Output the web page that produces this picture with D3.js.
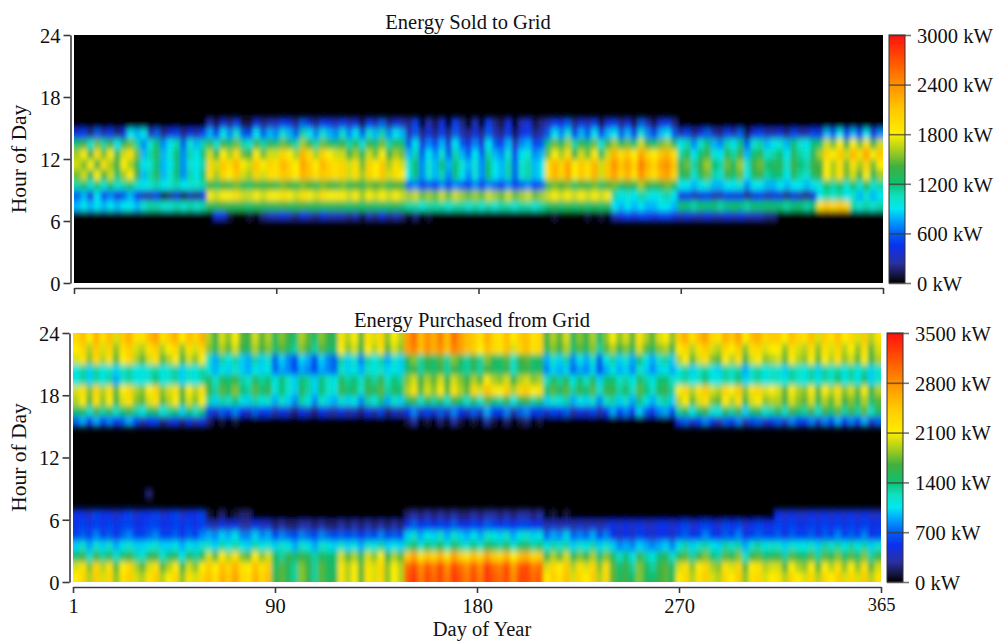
<!DOCTYPE html>
<meta charset="utf-8">
<style>
	html, body { margin: 0; background: #fff; }
	svg { display: block; }
	text { font-family: "Liberation Serif", serif; fill: #111; }
	.axis path, .axis line { stroke: #3a3a3a; stroke-width: 1.6; fill: none; }
	.axis text { font-size: 20.5px; }
	.title { font-size: 20.5px; }
	.label { font-size: 21.5px; }
	.daylabel { font-size: 20.5px; }
</style>
<svg width="997" height="641"></svg>
<script src="https://cdn.jsdelivr.net/npm/d3@7"></script>
<script>
	var sold15 = [0,0,0,0,0,0,0,0,0,0, 0,0,0,0,0,0,0,0,0,0, 3,1,4,2,5,1,1,4,2,3, 3,5,4,2,6,4,2,5,4,3, 5,3,4,1,5,3,6,2,4,3, 2,5,0,3,1,4,0,5,2,0, 3,0,5,2,1,4,0,3,4,1,2, 3,5,4,6,2,4,3,5,1,4, 5,2,4,1,6,3,1,4,5,2, 0,0,0,0,0,0,0,0,0,0,0,0,0,0,0, 0,0,0,0,0,0, 0,0,0,0,0, 0,0,0,0,0];
	var sold14 = [4,5,2,6,3,5,2,4,9,8, 9,3,6,2,4,5,2,4,3,5, 8,5,9,7,10,6,5,9,6,8, 7,10,8,6,11,9,7,10,8,7, 10,7,9,6,10,8,11,7,9,8, 3,6,2,4,2,5,2,6,3,2, 4,2,6,3,2,5,1,4,5,2,3, 6,9,7,10,5,8,6,9,5,8, 9,6,8,5,10,7,5,8,9,6, 3,5,2,4,6,3,2,5,3,6,1,4,5,3,3, 4,2,5,3,3,5, 4,8,6,9,5, 8,5,9,4,7];
	var sold13 = [12,14,10,15,11,14,9,13,15,11, 7,10,12,7,9,11,6,10,8,11, 13,10,14,12,15,11,10,14,11,13, 12,15,13,11,16,14,11,15,13,12, 14,11,13,10,14,12,15,11,13,12, 6,9,4,7,5,8,4,9,6,4, 7,4,9,6,5,8,3,7,8,5,6, 12,15,13,16,11,14,12,15,10,14, 16,13,15,12,17,14,12,15,16,13, 9,11,7,10,12,8,7,11,9,12,6,10,11,8,9, 10,8,12,10,9,12, 12,17,15,18,14, 18,15,19,14,17];
	var sold12 = [16,18,14,19,15,18,13,17,19,15, 8,11,13,8,10,12,7,11,9,12, 17,14,18,16,19,15,14,18,15,17, 17,20,18,16,22,19,16,20,18,17, 17,14,16,13,17,15,18,14,16,15, 8,11,6,9,7,10,6,11,8,6, 9,6,11,8,7,10,5,9,10,7,8, 15,18,16,19,14,17,15,18,13,17, 22,19,21,18,23,20,18,21,22,19, 11,13,9,12,14,10,9,13,11,14,8,12,13,10,11, 12,9,13,11,10,13, 16,20,18,21,17, 22,19,23,18,21];
	var sold11 = [17,15,18,14,19,16,14,18,16,13, 9,10,12,8,9,12,7,10,9,11, 20,17,21,19,22,18,17,21,18,20, 19,22,20,18,23,21,18,22,20,19, 20,17,19,15,20,18,21,16,19,17, 10,12,7,10,8,12,8,12,10,8, 10,7,12,9,8,11,6,10,11,8,9, 19,22,20,23,18,21,19,22,17,21, 24,21,23,20,25,22,20,23,24,21, 13,15,11,14,16,12,11,15,13,16,10,14,15,12,13, 13,10,14,12,11,14, 14,18,16,19,15, 19,16,20,15,18];
	var sold10 = [15,17,13,18,14,17,12,16,18,14, 8,11,13,8,10,12,7,11,9,12, 19,16,20,18,21,17,16,20,17,19, 19,21,20,18,22,21,19,21,20,19, 20,17,19,16,20,18,21,17,19,18, 9,12,7,10,8,11,7,12,9,7, 10,7,12,9,8,11,6,10,11,8,9, 19,22,20,23,18,21,19,22,17,21, 23,20,22,19,24,21,19,22,23,20, 12,14,10,13,15,11,10,14,12,15,9,13,14,11,12, 12,9,13,11,10,13, 14,18,16,19,15, 17,14,18,13,16];
	var sold09 = [11,12,10,12,10,12,10,11,12,10, 9,10,11,9,10,11,9,10,10,11, 14,12,14,13,15,13,12,14,13,14, 13,15,14,13,15,14,13,15,14,13, 15,13,14,13,15,14,15,13,14,14, 6,7,5,6,5,7,5,7,6,5, 7,5,7,6,5,7,5,6,7,5,6, 13,15,14,15,12,14,13,15,12,14, 15,13,14,13,16,14,13,14,15,13, 9,9,8,9,10,8,8,9,9,10,7,9,9,8,8, 9,8,9,9,8,9, 10,12,11,12,10, 12,10,13,10,11];
	var sold08 = [6,8,4,9,5,7,4,6,8,5, 3,3,5,1,2,4,1,3,2,4, 18,17,18,18,19,17,17,18,17,18, 18,19,18,17,19,18,17,19,18,18, 18,17,18,16,18,17,18,17,18,17, 16,17,15,16,15,17,15,17,16,15, 16,15,17,16,15,17,15,16,17,15,16, 17,18,17,18,17,18,17,18,17,18, 11,9,10,9,11,10,9,10,11,9, 4,5,3,4,5,3,3,5,4,5,2,4,5,3,4, 4,2,4,3,2,4, 9,11,10,11,9, 10,8,10,8,9];
	var sold07 = [8,9,8,9,8,9,8,9,9,8, 10,11,11,10,10,11,10,11,10,11, 13,13,14,13,13,13,12,13,13,13, 13,14,13,13,14,13,13,13,13,13, 13,12,13,12,13,12,13,12,13,12, 11,11,10,11,11,11,10,11,11,10, 11,10,11,10,11,11,10,11,11,10,11, 12,13,12,13,12,13,12,13,12,13, 9,8,9,8,9,8,8,9,9,8, 12,12,11,12,12,12,11,12,12,12,11,12,12,12,12, 12,11,12,12,11,12, 19,21,20,21,20, 11,10,11,10,11];
	var sold06 = [0,0,0,0,0,0,0,0,0,0, 0,0,0,0,0,0,0,0,0,0, 0,4,4,1,0,0,1,0,2,3, 3,4,3,2,4,3,2,4,3,3, 3,2,3,1,3,2,4,2,3,2, 0,2,0,1,0,0,0,0,0,0, 0,0,0,0,0,0,0,0,0,0,0, 0,1,0,0,0,0,1,0,1,0, 3,4,5,4,5,5,4,5,5,4, 3,4,3,3,4,3,3,4,3,4,3,3,3,2,2, 0,0,0,0,0,0, 0,0,0,0,0, 0,0,0,0,0];

	var bought23 = [23,25,21,26,22,25,20,24,26,22, 22,25,27,22,24,26,21,25,23,26, 19,16,20,18,21,17,16,20,17,19, 15,18,16,14,19,17,14,18,16,15, 22,19,21,17,22,20,23,18,21,19, 27,30,25,28,26,29,25,30,27,25, 24,22,26,23,22,25,21,24,25,22,23, 16,19,17,20,15,18,16,19,14,18, 21,18,20,17,22,19,17,20,21,18, 24,26,22,25,27,23,22,26,24,27,21,25,26,23,24, 24,21,25,23,22,25, 20,24,22,25,21, 23,20,24,19,22];
	var bought22 = [21,23,19,24,20,23,18,22,24,20, 19,22,24,19,21,23,18,22,20,23, 18,15,19,17,20,16,15,19,16,18, 14,17,15,13,18,16,13,17,15,14, 21,18,20,16,21,19,22,17,20,18, 27,29,25,28,26,28,25,29,27,25, 24,21,25,23,22,25,20,23,25,22,23, 15,18,16,19,14,17,15,18,13,17, 19,16,18,15,20,17,15,18,19,16, 21,23,19,22,24,20,19,23,21,24,18,22,23,20,21, 21,18,22,20,19,22, 18,22,20,23,19, 21,18,22,17,20];
	var bought21 = [20,22,18,23,19,22,17,21,23,19, 17,20,22,17,19,21,16,20,18,21, 12,9,13,11,13,10,9,13,10,12, 7,10,8,6,10,9,6,10,8,7, 13,10,12,8,13,11,13,9,12,10, 15,18,13,16,14,17,13,18,15,13, 16,13,18,15,14,17,12,16,17,14,15, 9,12,10,13,8,11,9,12,7,11, 13,10,12,9,14,11,9,12,13,10, 19,21,17,20,22,18,17,21,19,22,16,20,21,18,19, 20,17,21,19,18,21, 17,21,19,22,18, 20,17,21,16,19];
	var bought20 = [11,13,10,13,11,12,10,12,13,11, 11,12,13,11,12,13,10,12,11,13, 11,9,11,10,12,10,9,11,10,11, 7,9,8,6,9,8,6,9,8,7, 12,10,11,9,12,11,12,10,11,10, 14,16,13,15,14,16,13,16,14,13, 15,13,16,15,14,16,12,15,16,14,15, 8,10,9,10,7,9,8,10,6,9, 11,9,10,8,12,10,8,10,11,9, 11,13,10,12,13,11,10,13,12,13,9,12,13,11,12, 12,10,13,12,11,13, 10,13,12,13,11, 13,11,13,10,12];
	var bought19 = [11,13,10,13,11,13,9,12,13,11, 11,12,14,11,12,13,10,12,11,13, 15,12,15,14,16,13,12,15,13,14, 11,14,12,10,14,13,10,14,12,11, 15,13,14,12,15,13,16,12,14,13, 18,20,16,19,17,20,16,20,18,16, 19,17,21,19,18,20,16,19,20,18,19, 12,15,13,15,11,14,12,15,10,14, 14,12,13,11,15,13,11,14,14,12, 12,13,11,12,14,11,11,13,12,14,10,12,13,11,12, 12,11,13,12,11,13, 11,13,12,14,11, 13,11,14,10,12];
	var bought18 = [20,22,18,23,19,22,17,21,23,19, 18,21,23,18,20,22,17,21,19,22, 16,13,17,15,18,14,13,17,14,16, 11,14,12,10,15,13,10,14,12,11, 16,14,15,12,16,15,17,13,15,14, 19,22,17,20,18,21,17,22,19,17, 23,20,25,22,21,24,19,23,24,21,22, 14,17,15,17,13,16,14,17,12,16, 16,13,15,12,17,14,12,15,16,13, 21,23,19,22,24,20,19,23,21,24,18,22,23,20,21, 20,17,21,19,18,21, 17,21,19,22,18, 20,17,21,16,19];
	var bought17 = [19,21,17,22,18,21,16,20,22,18, 17,20,22,17,19,21,16,20,18,21, 13,10,13,12,14,11,10,13,11,12, 9,12,10,8,13,11,8,12,10,9, 12,10,11,8,13,11,14,9,12,10, 14,16,12,15,13,15,12,16,14,12, 15,12,17,14,13,16,11,15,16,13,14, 10,12,11,13,9,11,10,12,8,12, 13,10,12,9,14,11,9,12,13,10, 19,21,17,20,22,18,17,21,19,22,16,20,21,18,19, 19,16,20,18,17,20, 15,19,17,20,16, 18,15,19,14,17];
	var bought16 = [14,15,12,16,13,15,12,14,16,13, 11,14,15,11,13,14,10,14,12,14, 6,4,7,5,8,5,4,7,5,6, 3,5,4,2,5,4,2,5,4,3, 5,3,4,2,5,3,6,2,4,3, 5,8,4,6,4,7,4,8,5,4, 7,4,9,6,5,8,3,7,8,5,6, 4,6,5,7,3,5,4,6,3,5, 9,6,8,5,10,7,5,8,9,6, 13,15,11,14,16,12,11,15,13,16,10,14,15,12,13, 15,12,16,14,13,16, 12,16,14,17,13, 16,13,17,12,15];
	var bought15 = [7,9,5,9,6,8,5,7,9,6, 3,5,6,2,4,5,2,5,3,5, 2,0,1,0,1,0,0,0,0,0, 0,0,0,0,0,0,0,0,0,0, 0,0,0,0,0,0,0,0,0,0, 1,3,0,1,0,2,0,3,1,0, 1,0,3,1,0,2,0,1,2,0,1, 0,0,0,0,0,0,0,0,0,0, 0,0,0,0,0,0,0,0,0,0, 5,7,4,6,8,5,3,7,5,8,3,6,7,4,5, 7,4,8,6,5,8, 4,8,6,9,5, 8,5,9,4,7];
	var bought08 = [0,0,0,0,0,0,0,0,0,0, 0,2];
	var bought06 = [5,5,4,6,5,5,4,5,6,4, 5,5,6,4,5,6,4,5,5,6, 1,0,2,0,1,2,2,0,0,0, 0,0,0,0,0,0,0,0,0,0, 0,0,0,0,0,0,0,0,0,0, 2,3,2,3,2,3,2,3,2,2, 3,2,3,3,2,3,2,3,3,2,3, 0,1,0,1,0,0,0,0,0,0, 0,0,0,0,0,0,0,0,0,0, 0,0,0,0,0,0,0,0,0,0,0,0,0,0,0, 5,4,5,4,4,5, 4,5,4,5,4, 5,4,5,4,4];
	var bought05 = [5,6,5,6,5,6,5,6,6,5, 5,6,6,5,5,6,5,6,5,6, 4,3,5,4,5,3,3,5,4,4, 2,3,2,2,3,3,2,3,2,2, 3,2,3,2,3,2,3,2,3,2, 5,7,5,6,5,6,5,7,5,5, 6,5,7,6,5,6,5,6,6,5,5, 3,4,3,4,3,4,3,4,3,4, 5,4,5,4,5,4,4,5,5,4, 5,6,4,5,6,5,4,6,5,6,4,5,6,5,5, 6,5,6,5,5,6, 5,6,5,6,5, 6,5,6,5,5];
	var bought04 = [6,7,6,8,6,7,5,7,8,6, 6,7,8,6,6,7,5,7,6,8, 9,8,10,9,11,8,8,10,8,9, 6,8,7,6,8,7,6,8,7,6, 7,6,7,5,7,6,8,6,7,6, 10,12,9,11,10,12,9,12,10,9, 11,9,12,11,10,12,9,11,12,10,11, 7,9,8,10,7,8,7,9,6,8, 5,4,5,4,6,5,4,5,5,4, 6,7,5,6,8,6,5,7,6,8,5,6,7,6,6, 7,5,7,6,6,7, 5,7,6,8,6, 7,6,8,5,6];
	var bought03 = [10,12,9,12,10,12,9,11,12,10, 10,11,12,10,10,11,9,11,10,12, 12,10,13,11,13,11,10,13,11,12, 10,12,11,9,12,11,9,12,11,10, 12,10,11,9,12,11,13,10,11,10, 13,15,12,14,13,15,12,15,13,12, 14,12,15,14,13,15,12,14,15,13,14, 11,13,12,13,10,12,11,13,10,12, 10,8,9,8,10,9,8,9,10,8, 11,13,10,12,13,11,10,13,12,13,9,12,13,11,12, 12,10,12,11,11,12, 10,13,12,13,11, 13,11,13,10,12];
	var bought02 = [14,16,12,16,13,15,12,14,16,13, 12,15,16,12,14,15,11,15,13,15, 20,17,21,19,22,18,17,21,18,20, 15,13,16,14,16,15,13,15,14,14, 20,17,19,15,20,18,21,16,19,17, 24,27,22,25,23,26,22,27,24,22, 25,23,27,24,23,26,21,25,26,23,24, 16,19,17,20,15,18,16,19,14,18, 15,12,14,11,16,13,11,14,15,12, 15,17,13,16,18,14,13,17,15,18,12,16,17,14,15, 16,13,17,15,14,17, 13,17,15,18,14, 17,14,18,13,16];
	var bought01 = [20,22,18,23,19,22,17,21,23,19, 17,20,22,17,19,21,16,20,18,21, 24,21,25,23,26,22,21,25,22,24, 14,17,15,13,18,16,13,17,15,14, 22,19,21,17,22,20,23,18,21,19, 30,32,28,31,29,32,28,32,30,28, 31,28,33,30,29,32,27,31,32,29,30, 20,23,21,24,19,22,20,23,18,22, 17,14,16,13,18,15,13,16,17,14, 20,22,18,21,23,19,18,22,20,23,17,21,22,19,20, 20,17,21,19,18,21, 17,21,19,22,18, 21,18,22,17,20];
	var bought00 = [21,23,19,24,20,23,18,22,24,20, 19,22,24,19,21,23,18,22,20,23, 25,22,26,24,27,23,22,26,23,25, 15,17,15,13,18,16,13,17,15,15, 22,19,21,17,22,20,23,18,21,19, 31,33,29,32,30,32,29,33,31,29, 32,29,33,31,30,32,28,32,32,30,31, 21,24,22,25,20,23,21,24,19,23, 17,15,16,14,18,15,14,16,17,15, 21,23,19,22,24,20,19,23,21,24,18,22,23,20,21, 22,19,23,21,20,23, 19,23,21,24,20, 23,20,24,19,22];

	var soldHours = {15: sold15, 14: sold14, 13: sold13, 12: sold12, 11: sold11, 10: sold10, 9: sold09, 8: sold08, 7: sold07, 6: sold06};
	var boughtHours = {23: bought23, 22: bought22, 21: bought21, 20: bought20, 19: bought19, 18: bought18, 17: bought17, 16: bought16, 15: bought15,
		8: bought08, 6: bought06, 5: bought05, 4: bought04, 3: bought03, 2: bought02, 1: bought01, 0: bought00};

	var dayColumns = d3.range(1, 366, 3);
	var dayTicks = ["1", "90", "180", "270", "365"];
	var hourTicks = [0, 6, 12, 18, 24];
	var soldLegend = [0, 600, 1200, 1800, 2400, 3000];
	var boughtLegend = [0, 700, 1400, 2100, 2800, 3500];

	// colours of the bar, position is share of the top value
	var colourStops = [0, .03, .08, .15, .2, .25, .3, .35, .4, .47, .53, .6, .7, .8, .9, 1];
	var colourValues = ["#000000", "#14143c", "#2a30a0", "#0a30f0", "#0060f0", "#00a0ff", "#00e8f0", "#10e0c0", "#10c070", "#40b040", "#a0cc20", "#ffee00", "#ffc800", "#ff9000", "#ff5000", "#ff1010"];
	var share = d3.scaleLinear().domain(colourStops).range(colourValues).clamp(true);

	var svg = d3.select("svg");

	var defs = svg.append("defs");
	var blur = defs.append("filter").attr("id", "soft")
		.attr("filterUnits", "userSpaceOnUse")
		.attr("x", 0).attr("y", 0).attr("width", 997).attr("height", 641);
	blur.append("feGaussianBlur").attr("stdDeviation", "2 3");

	var gradient = defs.append("linearGradient").attr("id", "bar")
		.attr("x1", 0).attr("x2", 0).attr("y1", 1).attr("y2", 0);
	colourStops.forEach(function(s, i) {
		gradient.append("stop").attr("offset", s).attr("stop-color", colourValues[i]);
	});

	function drawPanel(p)
	{
		var x = d3.scaleBand().domain(dayColumns).range([p.left, p.right]);
		var y = d3.scaleLinear().domain([0, 24]).range([p.bottom, p.top]);
		var xTicks = d3.scalePoint().domain(dayTicks).range([p.left, p.right]);
		var colour = function(v) { return share(v * 100 / p.max); };

		defs.append("clipPath").attr("id", p.id)
			.append("rect")
			.attr("x", p.left).attr("y", p.top)
			.attr("width", p.right - p.left).attr("height", p.bottom - p.top);

		var plot = svg.append("g").attr("clip-path", "url(#" + p.id + ")");
		plot.append("rect")
			.attr("x", p.left).attr("y", p.top)
			.attr("width", p.right - p.left).attr("height", p.bottom - p.top)
			.attr("fill", "#000");

		var cells = plot.append("g").attr("filter", "url(#soft)");
		Object.keys(p.hours).forEach(function(h) {
			h = +h;
			cells.selectAll(null)
				.data(p.hours[h])
				.enter().append("rect")
				// outer cells run past the clip so the blur has no fade at the edge
				.attr("x", function(d, i) { return x(dayColumns[i]) - (i == 0 ? 12 : 0); })
				.attr("width", function(d, i) { return x.bandwidth() + (i == 0 || i == dayColumns.length - 1 ? 12 : 0) + .5; })
				.attr("y", y(h + 1) - (h == 23 ? 12 : 0))
				.attr("height", y(h) - y(h + 1) + (h == 23 || h == 0 ? 12 : 0) + .5)
				.attr("fill", colour);
		});

		var yAxis = svg.append("g")
			.attr("class", "axis")
			.attr("transform", "translate(" + (p.left - 3.5) + ",0)")
			.call(d3.axisLeft(y).tickValues(hourTicks).tickSize(7).tickPadding(3).tickSizeOuter(0));
		yAxis.selectAll("text").attr("dy", ".36em");

		var xAxis = svg.append("g")
			.attr("class", "axis")
			.attr("transform", "translate(0," + (p.bottom + 5) + ")")
			.call(d3.axisBottom(xTicks).tickSize(6).tickSizeOuter(0).tickPadding(5));
		if(p.hideDays) xAxis.selectAll("text").remove();
		xAxis.selectAll("text").filter(function(d) { return d == "365"; }).style("font-size", "18.5px");

		svg.append("text")
			.attr("class", "title")
			.attr("x", p.titleX).attr("y", p.top - 6)
			.attr("text-anchor", "middle")
			.text(p.title);

		svg.append("text")
			.attr("class", "label")
			.attr("transform", "translate(26," + ((p.top + p.bottom) / 2) + ") rotate(-90)")
			.attr("text-anchor", "middle")
			.text("Hour of Day");

		// colour bar
		var legend = d3.scaleLinear().domain([0, p.max]).range([p.bottom, p.top]);
		svg.append("rect")
			.attr("x", p.barLeft).attr("y", p.top)
			.attr("width", 16).attr("height", p.bottom - p.top)
			.attr("fill", "url(#bar)")
			.attr("stroke", "#333").attr("stroke-width", 1);
		var legendAxis = svg.append("g")
			.attr("class", "axis")
			.attr("transform", "translate(" + (p.barLeft + 16) + ",0)")
			.call(d3.axisRight(legend).tickValues(p.legend).tickSize(6).tickPadding(6)
				.tickFormat(function(d) { return d + " kW"; }));
		legendAxis.select(".domain").remove();
		legendAxis.selectAll("line").attr("x1", -16).attr("stroke-opacity", .7);
		legendAxis.selectAll("text").attr("dy", ".36em");
	}

	drawPanel({id: "clipsold", hours: soldHours, title: "Energy Sold to Grid", titleX: 468, max: 3000, legend: soldLegend,
		left: 74, right: 883, top: 35, bottom: 283, barLeft: 889, hideDays: true});
	drawPanel({id: "clipbought", hours: boughtHours, title: "Energy Purchased from Grid", titleX: 472, max: 3500, legend: boughtLegend,
		left: 73, right: 881, top: 333, bottom: 582, barLeft: 887, hideDays: false});

	svg.append("text")
		.attr("class", "daylabel")
		.attr("x", 482).attr("y", 636)
		.attr("text-anchor", "middle")
		.text("Day of Year");
</script>
